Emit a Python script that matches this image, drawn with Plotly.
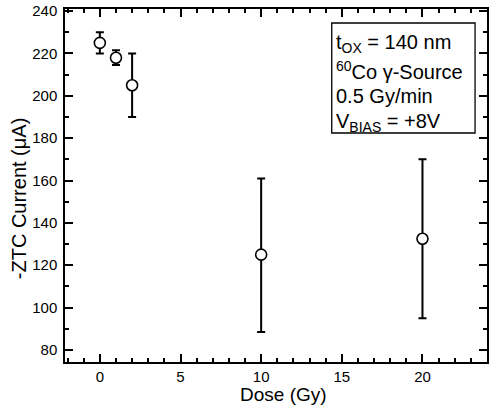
import plotly.graph_objects as go

dose = [0, 1, 2, 10, 20]
current = [225, 218, 205, 125, 132.5]
err_upper = [230, 221.5, 220, 161, 170]
err_lower = [220, 214.5, 190, 88.5, 95]

x_ticks = [0, 5, 10, 15, 20]
y_ticks = [80, 100, 120, 140, 160, 180, 200, 220, 240]

x_title = "Dose (Gy)"
y_title = "-ZTC Current (μA)"
box_lines = [
    "t<sub>OX</sub> = 140 nm",
    "<sup>60</sup>Co γ-Source",
    "0.5 Gy/min",
    "V<sub>BIAS</sub> = +8V",
]

plus = [u - c for u, c in zip(err_upper, current)]
minus = [c - l for c, l in zip(current, err_lower)]

FONT = "Liberation Sans, Arial, Helvetica, sans-serif"
XR = [-2.16, 24.0]
YR = [74.3, 241.0]

fig = go.Figure()
fig.add_trace(go.Scatter(
    x=dose, y=current, mode="markers",
    marker=dict(symbol="circle", size=11, color="white",
                line=dict(color="black", width=1.6)),
    error_y=dict(type="data", symmetric=False, array=plus, arrayminus=minus,
                 color="black", thickness=2, width=4),
    showlegend=False,
))
# empty trace to bind the mirrored (top/right) tick axes
fig.add_trace(go.Scatter(x=[], y=[], xaxis="x2", yaxis="y2", showlegend=False,
                         hoverinfo="skip"))

tick_common = dict(
    ticks="inside", ticklen=8, tickwidth=1.5, tickcolor="black",
    showgrid=False, zeroline=False,
)

fig.update_layout(
    xaxis=dict(
        range=XR, tickvals=x_ticks, ticktext=[str(v) for v in x_ticks],
        showline=True, linecolor="black", linewidth=1.5, mirror=True,
        minor=dict(dtick=1, tick0=0, ticks="inside", ticklen=4, tickwidth=1.5, tickcolor="black"),
        tickfont=dict(family=FONT, size=15, color="black"),
        **tick_common,
    ),
    yaxis=dict(
        range=YR, tickvals=y_ticks, ticktext=[str(v) for v in y_ticks],
        showline=True, linecolor="black", linewidth=1.5, mirror=True,
        minor=dict(dtick=10, tick0=0, ticks="inside", ticklen=4, tickwidth=1.5, tickcolor="black"),
        tickfont=dict(family=FONT, size=15, color="black"),
        ticklabelstandoff=3,
        **tick_common,
    ),
    xaxis2=dict(
        range=XR, overlaying="x", side="top", tickvals=x_ticks, showticklabels=False,
        showline=False,
        minor=dict(dtick=1, tick0=0, ticks="inside", ticklen=4, tickwidth=1.5, tickcolor="black"),
        **tick_common,
    ),
    yaxis2=dict(
        range=YR, overlaying="y", side="right", tickvals=y_ticks, showticklabels=False,
        showline=False,
        minor=dict(dtick=10, tick0=0, ticks="inside", ticklen=4, tickwidth=1.5, tickcolor="black"),
        **tick_common,
    ),
)

L, R, T, B = 65, 1, 9, 49
W, H = 490, 411
pw, ph = W - L - R, H - T - B

def px(x):
    return (x - L) / pw

def py(y):
    return (H - B - y) / ph

# axis titles (placed as in the reference)
fig.add_annotation(xref="paper", yref="paper", x=px(285), y=py(394),
                   xanchor="center", yanchor="middle", text=x_title, showarrow=False,
                   font=dict(family=FONT, size=19, color="black"))
fig.add_annotation(xref="paper", yref="paper", x=px(19), y=py(198),
                   xanchor="center", yanchor="middle", text=y_title, showarrow=False,
                   textangle=-90, font=dict(family=FONT, size=20, color="black"))

fig.add_shape(type="rect", xref="paper", yref="paper",
              x0=px(333), x1=px(477), y0=py(133), y1=py(23),
              line=dict(color="black", width=1.3), fillcolor="white", layer="above")

for txt, yc in zip(box_lines, [43, 70, 96, 122]):
    fig.add_annotation(xref="paper", yref="paper", x=px(335), y=py(yc),
                       xanchor="left", yanchor="middle", text=txt, showarrow=False,
                       font=dict(family=FONT, size=20, color="black"))

fig.update_layout(
    width=W, height=H,
    margin=dict(l=L, r=R, t=T, b=B),
    paper_bgcolor="white", plot_bgcolor="white",
    font=dict(family=FONT, color="black"),
)

fig.write_html("out.html")
